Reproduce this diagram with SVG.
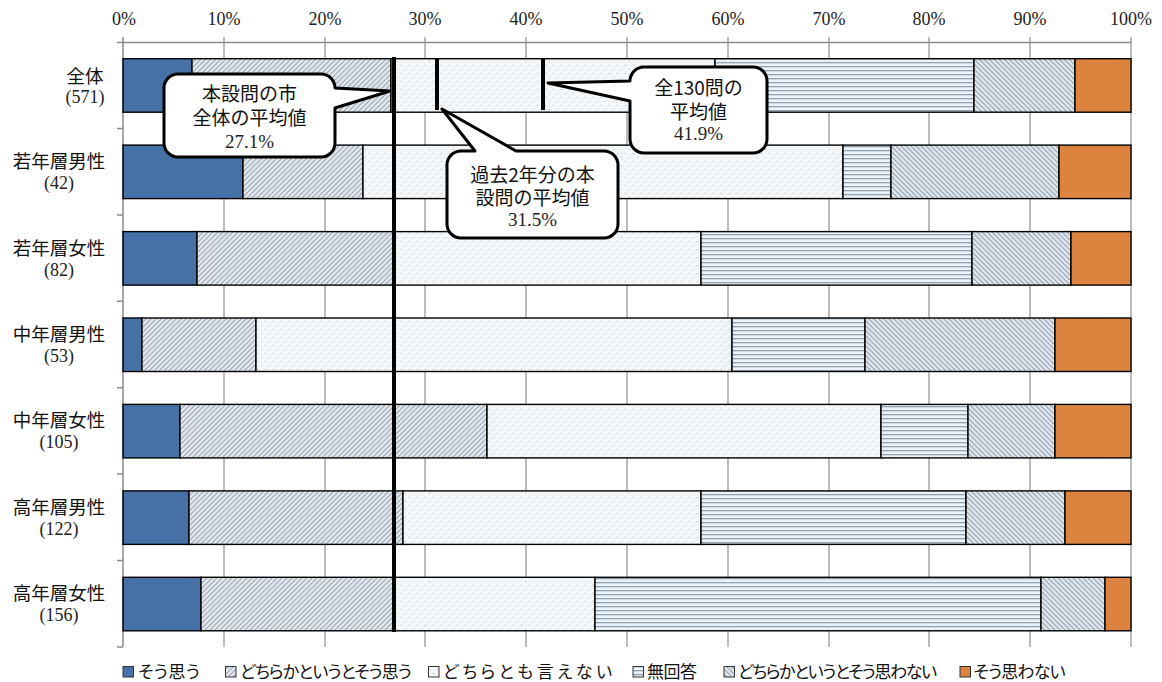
<svg xmlns="http://www.w3.org/2000/svg" width="1162" height="682" viewBox="0 0 1162 682">
<style>
.grid{stroke:#a6a6a6;stroke-width:1.5;fill:none}
.axis{stroke:#8c8c8c;stroke-width:1.5;fill:none}
.seg{stroke:#000;stroke-width:1.4}
.s1{fill:#4671a6}
.s2{fill:url(#pHatchR)}
.s3{fill:url(#pDots)}
.s4{fill:url(#pStripes)}
.s5{fill:url(#pHatchL)}
.s6{fill:#dc843f}
.num{font-family:"Liberation Serif","Times New Roman",serif;fill:#222}
.jp{font-family:"Noto Sans CJK JP","Noto Sans CJK SC",sans-serif;fill:#111}
.ax{font-size:18px;text-anchor:middle}
.lab{font-size:18.5px;text-anchor:middle}
.labn{font-size:18px;text-anchor:middle}
.co{font-size:19px;text-anchor:middle}
.leg{font-size:17px;font-feature-settings:"palt"}
.ref{stroke:#000;stroke-width:4;fill:none}
.bubble{fill:#fff;stroke:#000;stroke-width:3;stroke-linejoin:round}
.lsq{stroke:#333;stroke-width:1}
</style>
<defs>
<pattern id="pHatchR" patternUnits="userSpaceOnUse" width="5" height="5">
<rect width="5" height="5" fill="#e3e8ec"/>
<path d="M-1,1 L1,-1 M0,5 L5,0 M4,6 L6,4" stroke="#9aa7b3" stroke-width="1.1"/>
</pattern>
<pattern id="pHatchL" patternUnits="userSpaceOnUse" width="5" height="5">
<rect width="5" height="5" fill="#e0e6eb"/>
<path d="M-1,4 L1,6 M0,0 L5,5 M4,-1 L6,1" stroke="#94a3b0" stroke-width="1.1"/>
</pattern>
<pattern id="pDots" patternUnits="userSpaceOnUse" width="8" height="8">
<rect width="8" height="8" fill="#f4f7f9"/>
<circle cx="1.5" cy="1.5" r="0.75" fill="#b4c0ca"/>
<circle cx="5.5" cy="5.5" r="0.75" fill="#c4ced6"/>
</pattern>
<pattern id="pStripes" patternUnits="userSpaceOnUse" width="4" height="4">
<rect width="4" height="4" fill="#edf2f6"/>
<rect y="2" width="4" height="1.3" fill="#8ea3b5"/>
</pattern>
</defs>
<rect width="1162" height="682" fill="#fff"/>

<g id="grid">
<path class="grid" d="M224,37V647 M325,37V647 M425,37V647 M526,37V647 M627,37V647 M728,37V647 M829,37V647 M929,37V647 M1030,37V647 M1131,37V647"/>
<path class="axis" d="M123,37V647 M117,42.5H1131 M117,128.4H123 M117,214.9H123 M117,301.3H123 M117,387.7H123 M117,474.1H123 M117,560.6H123 M117,647H123"/>
</g>

<g id="axis-labels" class="num ax">
<text x="124" y="25">0%</text>
<text x="224" y="25">10%</text>
<text x="325" y="25">20%</text>
<text x="425" y="25">30%</text>
<text x="526" y="25">40%</text>
<text x="627" y="25">50%</text>
<text x="728" y="25">60%</text>
<text x="829" y="25">70%</text>
<text x="929" y="25">80%</text>
<text x="1030" y="25">90%</text>
<text x="1131" y="25">100%</text>
</g>

<g id="row-zentai">
<rect class="seg s1" x="123" y="58.7" width="69" height="53.5"/>
<rect class="seg s2" x="192" y="58.7" width="199" height="53.5"/>
<rect class="seg s3" x="391" y="58.7" width="324" height="53.5"/>
<rect class="seg s4" x="715" y="58.7" width="259" height="53.5"/>
<rect class="seg s5" x="974" y="58.7" width="101" height="53.5"/>
<rect class="seg s6" x="1075" y="58.7" width="56" height="53.5"/>
<text class="jp lab" x="85" y="82.5">全体</text>
<text class="num labn" x="85" y="103">(571)</text>
</g>

<g id="row-young-male">
<rect class="seg s1" x="123" y="145.1" width="120" height="53.5"/>
<rect class="seg s2" x="243" y="145.1" width="120" height="53.5"/>
<rect class="seg s3" x="363" y="145.1" width="480" height="53.5"/>
<rect class="seg s4" x="843" y="145.1" width="48" height="53.5"/>
<rect class="seg s5" x="891" y="145.1" width="168" height="53.5"/>
<rect class="seg s6" x="1059" y="145.1" width="72" height="53.5"/>
<text class="jp lab" x="59" y="168.1">若年層男性</text>
<text class="num labn" x="59" y="189.1">(42)</text>
</g>

<g id="row-young-female">
<rect class="seg s1" x="123" y="231.6" width="74" height="53.5"/>
<rect class="seg s2" x="197" y="231.6" width="196" height="53.5"/>
<rect class="seg s3" x="393" y="231.6" width="308" height="53.5"/>
<rect class="seg s4" x="701" y="231.6" width="271" height="53.5"/>
<rect class="seg s5" x="972" y="231.6" width="99" height="53.5"/>
<rect class="seg s6" x="1071" y="231.6" width="60" height="53.5"/>
<text class="jp lab" x="59" y="254.6">若年層女性</text>
<text class="num labn" x="59" y="275.6">(82)</text>
</g>

<g id="row-middle-male">
<rect class="seg s1" x="123" y="318" width="19" height="53.5"/>
<rect class="seg s2" x="142" y="318" width="114" height="53.5"/>
<rect class="seg s3" x="256" y="318" width="476" height="53.5"/>
<rect class="seg s4" x="732" y="318" width="133" height="53.5"/>
<rect class="seg s5" x="865" y="318" width="190" height="53.5"/>
<rect class="seg s6" x="1055" y="318" width="76" height="53.5"/>
<text class="jp lab" x="59" y="341">中年層男性</text>
<text class="num labn" x="59" y="362">(53)</text>
</g>

<g id="row-middle-female">
<rect class="seg s1" x="123" y="404.4" width="57" height="53.5"/>
<rect class="seg s2" x="180" y="404.4" width="307" height="53.5"/>
<rect class="seg s3" x="487" y="404.4" width="394" height="53.5"/>
<rect class="seg s4" x="881" y="404.4" width="87" height="53.5"/>
<rect class="seg s5" x="968" y="404.4" width="87" height="53.5"/>
<rect class="seg s6" x="1055" y="404.4" width="76" height="53.5"/>
<text class="jp lab" x="59" y="427.4">中年層女性</text>
<text class="num labn" x="59" y="448.4">(105)</text>
</g>

<g id="row-senior-male">
<rect class="seg s1" x="123" y="490.9" width="66" height="53.5"/>
<rect class="seg s2" x="189" y="490.9" width="214" height="53.5"/>
<rect class="seg s3" x="403" y="490.9" width="298" height="53.5"/>
<rect class="seg s4" x="701" y="490.9" width="265" height="53.5"/>
<rect class="seg s5" x="966" y="490.9" width="99" height="53.5"/>
<rect class="seg s6" x="1065" y="490.9" width="66" height="53.5"/>
<text class="jp lab" x="59" y="513.9">高年層男性</text>
<text class="num labn" x="59" y="534.9">(122)</text>
</g>

<g id="row-senior-female">
<rect class="seg s1" x="123" y="577.3" width="78" height="53.5"/>
<rect class="seg s2" x="201" y="577.3" width="192" height="53.5"/>
<rect class="seg s3" x="393" y="577.3" width="202" height="53.5"/>
<rect class="seg s4" x="595" y="577.3" width="446" height="53.5"/>
<rect class="seg s5" x="1041" y="577.3" width="64" height="53.5"/>
<rect class="seg s6" x="1105" y="577.3" width="26" height="53.5"/>
<text class="jp lab" x="59" y="600.3">高年層女性</text>
<text class="num labn" x="59" y="621.3">(156)</text>
</g>

<g id="reference-lines">
<line class="ref" x1="394" y1="57" x2="394" y2="632"/>
<line class="ref" x1="437" y1="58" x2="437" y2="110"/>
<line class="ref" x1="543" y1="58" x2="543" y2="110"/>
</g>

<g id="callout-city">
<path class="bubble" d="M178,74 H321 A14,14 0 0 1 335,88 L390,91 L335,108 V143 A14,14 0 0 1 321,157 H178 A14,14 0 0 1 164,143 V88 A14,14 0 0 1 178,74 Z"/>
<text class="jp co" x="249.5" y="101">本設問の市</text>
<text class="jp co" x="249.5" y="125">全体の平均値</text>
<text class="num co" x="249.5" y="148">27.1%</text>
</g>

<g id="callout-past">
<path class="bubble" d="M461,151 H475 L442,109 L516,151 H604 A14,14 0 0 1 618,165 V224 A14,14 0 0 1 604,238 H461 A14,14 0 0 1 447,224 V165 A14,14 0 0 1 461,151 Z"/>
<text class="jp co" x="532.5" y="182">過去2年分の本</text>
<text class="jp co" x="532.5" y="205">設問の平均値</text>
<text class="num co" x="532.5" y="225.5">31.5%</text>
</g>

<g id="callout-all">
<path class="bubble" d="M644,67 H753 A14,14 0 0 1 767,81 V139 A14,14 0 0 1 753,153 H644 A14,14 0 0 1 630,139 V101 L548,83 L630,81 A14,14 0 0 1 644,67 Z"/>
<text class="jp co" x="698.5" y="95">全130問の</text>
<text class="jp co" x="698.5" y="119">平均値</text>
<text class="num co" x="698.5" y="140">41.9%</text>
</g>

<g id="legend" class="jp leg">
<rect class="lsq s1" x="123" y="666.5" width="10.5" height="10.5"/>
<text x="138" y="678" textLength="62" lengthAdjust="spacing">そう思う</text>
<rect class="lsq s2" x="225.5" y="666.5" width="10.5" height="10.5"/>
<text x="240" y="678" textLength="172" lengthAdjust="spacing">どちらかというとそう思う</text>
<rect class="lsq s3" x="428.5" y="666.5" width="10.5" height="10.5"/>
<text x="443" y="678" textLength="169" lengthAdjust="spacing">どちらとも言えない</text>
<rect class="lsq s4" x="633" y="666.5" width="10.5" height="10.5"/>
<text x="647" y="678" textLength="50" lengthAdjust="spacing">無回答</text>
<rect class="lsq s5" x="724" y="666.5" width="10.5" height="10.5"/>
<text x="738" y="678" textLength="199" lengthAdjust="spacing">どちらかというとそう思わない</text>
<rect class="lsq s6" x="960" y="666.5" width="10.5" height="10.5"/>
<text x="973.5" y="678" textLength="92" lengthAdjust="spacing">そう思わない</text>
</g>
</svg>
